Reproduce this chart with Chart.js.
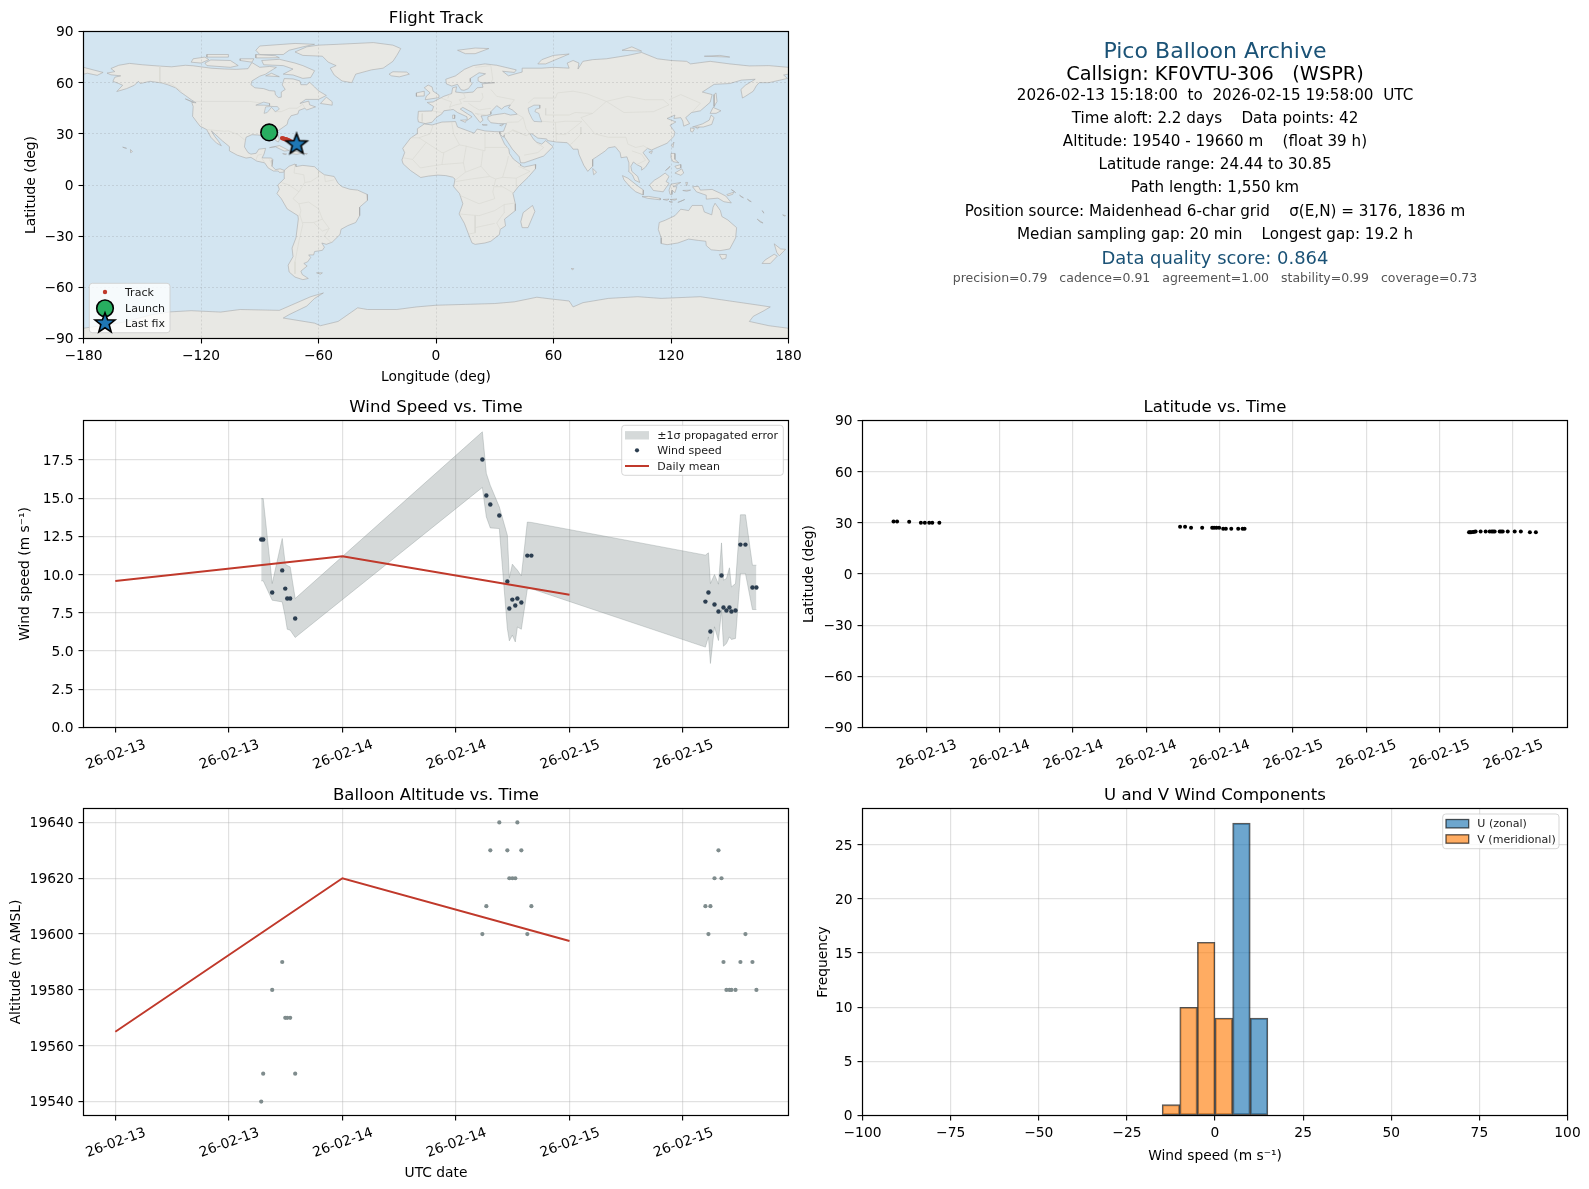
<!DOCTYPE html>
<html>
<head>
<meta charset="utf-8">
<title>Pico Balloon Archive</title>
<script src="https://cdn.jsdelivr.net/npm/chart.js@4/dist/chart.umd.js"></script>
<style>
  body { margin: 0; background: #fff; width: 1589px; height: 1189px; overflow: hidden; position: relative; font-family: "DejaVu Sans", sans-serif; }
  canvas { position: absolute; }
  .info { position: absolute; left: 815px; width: 800px; text-align: center; white-space: pre; line-height: 1; transform: translateY(-50%); color: #000; }
</style>
</head>
<body>
<canvas id="mapChart"></canvas>
<canvas id="windChart"></canvas>
<canvas id="latChart"></canvas>
<canvas id="altChart"></canvas>
<canvas id="histChart"></canvas>
<div id="infoBox"></div>
<script>
// --- Time series, hours after 26-02-13 00:00 UTC ---
const windHours = [15.42, 15.63, 16.58, 17.64, 17.96, 18.17, 18.48, 19.01,
  38.79, 39.21, 39.63, 40.58, 41.43, 41.64, 41.96, 42.27, 42.49, 42.91, 43.54, 43.97,
  62.36, 62.68, 62.89, 63.32, 63.74, 64.06, 64.27, 64.58, 64.90, 65.11, 65.54, 66.06, 66.59, 67.33, 67.75];
const windSpeed = [12.30, 12.30, 8.83, 10.28, 9.09, 8.44, 8.44, 7.13,
  17.54, 15.18, 14.59, 13.87, 9.55, 7.79, 8.37, 7.98, 8.44, 8.18, 11.25, 11.25,
  8.24, 8.83, 6.28, 8.05, 7.59, 9.95, 7.85, 7.66, 7.85, 7.59, 7.66, 11.97, 11.97, 9.16, 9.16];
const windUpper = [14.98, 14.98, 9.42, 12.37, 10.69, 10.60, 10.51, 8.44,
  19.35, 16.63, 15.84, 14.44, 12.58, 9.79, 10.69, 10.45, 10.30, 9.92, 13.44, 13.42,
  11.28, 11.43, 9.42, 10.01, 9.38, 12.08, 9.64, 9.75, 10.45, 9.20, 9.42, 13.92, 13.92, 10.62, 10.62];
const windLower = [9.60, 9.60, 8.33, 8.22, 7.24, 6.43, 6.37, 5.89,
  15.71, 13.78, 13.06, 13.02, 6.48, 5.67, 6.04, 5.60, 6.58, 6.43, 9.06, 9.08,
  5.26, 5.93, 4.19, 6.59, 5.69, 7.68, 5.32, 5.50, 5.93, 5.76, 5.83, 10.08, 10.08, 7.72, 7.72];
const altitude = [19540, 19550, 19580, 19590, 19570, 19570, 19570, 19550,
  19600, 19610, 19630, 19640, 19630, 19620, 19620, 19620, 19640, 19630, 19600, 19610,
  19610, 19600, 19610, 19620, 19630, 19620, 19590, 19580, 19580, 19580, 19580, 19590, 19600, 19590, 19580];

const dailyHours = [0, 24, 48];
const dailyWind = [9.58, 11.2, 8.68];
const dailyAlt = [19565, 19620, 19597.5];

const latHours = [15.32, 15.61, 16.60, 17.56, 17.88, 18.24, 18.49, 19.07,
  38.77, 39.18, 39.67, 40.58, 41.40, 41.56, 41.75, 41.97, 42.30, 42.52, 42.96, 43.53, 43.89, 44.05,
  62.42, 62.50, 62.58, 62.74, 62.85, 62.96, 63.37, 63.78, 64.11, 64.28, 64.40, 64.52, 64.93, 65.05, 65.18, 65.59, 66.16, 66.66, 67.40, 67.89];
const latValues = [30.85, 30.8, 30.7, 30.1, 30.05, 30.05, 30.0, 30.0,
  27.65, 27.65, 27.07, 27.07, 27.07, 27.07, 27.07, 27.07, 26.48, 26.48, 26.48, 26.48, 26.48, 26.48,
  24.44, 24.44, 24.44, 24.6, 24.7, 24.9, 24.9, 24.9, 24.9, 24.9, 24.9, 24.9, 24.9, 24.9, 24.9, 24.9, 24.9, 24.9, 24.44, 24.44];

const histBins = [-12.5, -7.5, -2.5, 2.5, 7.5, 12.5];
const histU = [null, null, null, null, 27, 9];
const histV = [1, 10, 16, 9, null, null];

// --- Tick lists ---
const mapLonTicks = [-180, -120, -60, 0, 60, 120, 180];
const latTicks = [-90, -60, -30, 0, 30, 60, 90];
const windHourTicks = [0, 12, 24, 36, 48, 60];
const windTickLabels = ['26-02-13', '26-02-13', '26-02-14', '26-02-14', '26-02-15', '26-02-15'];
const latHourTicks = [18, 24, 30, 36, 42, 48, 54, 60, 66];
const latTickLabels = ['26-02-13', '26-02-14', '26-02-14', '26-02-14', '26-02-14', '26-02-15', '26-02-15', '26-02-15', '26-02-15'];
const windSpeedTicks = [0, 2.5, 5, 7.5, 10, 12.5, 15, 17.5];
const altTicks = [19540, 19560, 19580, 19600, 19620, 19640];
const histXTicks = [-100, -75, -50, -25, 0, 25, 50, 75, 100];
const histYTicks = [0, 5, 10, 15, 20, 25];

// --- Map track ---
const trackLon = [-85.2, -85.0, -84.7, -84.4, -84.2, -84.0, -78.6, -78.0, -77.3, -76.6, -76.0, -75.3, -74.6, -73.5, -72.6, -71.8, -71.2];
const trackLat = [30.85, 30.7, 30.1, 30.05, 30.0, 30.0, 27.5, 27.3, 27.0, 26.8, 26.5, 26.2, 25.9, 25.2, 24.9, 24.6, 24.44];
const launchPoint = [-85.2, 30.85];
const lastFix = [-71.2, 24.44];

// --- Coastlines [lon, lat] ---
const northAmerica = [[-168,65.6],[-164,66.5],[-166,68.3],[-162,70.2],[-156.5,71.3],[-150,70.5],[-141,69.7],[-135,69.3],[-128,70.2],[-124,69.9],[-115,68.5],[-108,68],[-102,67.8],[-96,68.2],[-94,71.8],[-90,69],[-85,69.5],[-81.5,69],[-85,66.5],[-87,65],[-90,63.8],[-94,61],[-94.5,58.8],[-92.5,57],[-88,56.5],[-85,55.3],[-82.3,55.1],[-82,52.9],[-80.5,51.3],[-79,51.5],[-79,54.5],[-77,56],[-78.5,58.7],[-77.5,62.4],[-73,62.2],[-69.5,61],[-69,58.8],[-66,58.8],[-64.5,60.2],[-62,57.5],[-60,55.2],[-56,52.5],[-60,50.2],[-66.5,50.2],[-69.5,47.8],[-65,49.2],[-64.5,47],[-61.5,45.8],[-66,44],[-67,45],[-70,43.7],[-70.5,41.7],[-74,40.6],[-75.5,38],[-76,35.5],[-78,33.9],[-81,31.5],[-80,26.5],[-80.5,25.2],[-81.8,26],[-82.8,28],[-84,30],[-86,30.4],[-89.5,30.2],[-89.3,29.1],[-91,29.3],[-94,29.5],[-97,28],[-97.5,25],[-97.8,22.3],[-96,19],[-94.5,18.1],[-91.8,18.6],[-90.5,21],[-87,21.5],[-87.8,18.2],[-88.8,15.9],[-84,15.8],[-83.3,14.9],[-83.7,11],[-82,9],[-79.6,9.5],[-77.5,8.6],[-77.8,7.5],[-80,7.4],[-80.5,8.2],[-83,8.2],[-85.7,10],[-87.5,13],[-91.5,14],[-94.5,16.2],[-97,15.8],[-101.5,17.5],[-105.5,20],[-105.5,22.5],[-109,25.8],[-112.5,29.5],[-114.7,31.7],[-113,28.5],[-111,25.5],[-109.6,23],[-112,24.5],[-115,28],[-117.1,32.5],[-120.5,34.5],[-122.5,37.5],[-124.3,40.3],[-124,46],[-124.7,48.4],[-122.5,48.2],[-125,50],[-128,52.5],[-130.5,54.5],[-133,57],[-137,58.8],[-140,59.8],[-146,60.8],[-151,59.5],[-152,60.8],[-154,58.5],[-158,56.5],[-163,54.8],[-160,58.5],[-162,59.5],[-165,60.8],[-164,63.2],[-161,64],[-166,64.6]];
const greenland = [[-72,78],[-66,81],[-60,82],[-50,82.5],[-32,83.5],[-22,82],[-18,80],[-20,76],[-22,72.5],[-27,68.5],[-33,67.5],[-41,65],[-43,60],[-48,61],[-52,64.5],[-54,68.5],[-51,70],[-55,72],[-58,75.5],[-68,76]];
const southAmerica = [[-77.5,8.6],[-75,11],[-72,12.3],[-71.5,10.8],[-68,11.5],[-62,10.7],[-60,8.5],[-57,6],[-52,5],[-50,1],[-48,-1],[-44,-2.5],[-40,-3],[-35.2,-5.5],[-35,-9],[-39,-13],[-39,-18],[-41,-22],[-45,-23.8],[-48.5,-26],[-49,-29],[-53,-33.5],[-56,-34.8],[-58.3,-34],[-57,-36.5],[-58,-38.3],[-62,-39],[-62.5,-41],[-65,-41],[-64,-42.5],[-65.5,-45],[-67.5,-46],[-65.8,-47.5],[-69,-50.5],[-68.3,-52.5],[-65.2,-54.8],[-68,-55.5],[-72,-54],[-75,-51],[-75.5,-47],[-73,-42],[-73.5,-37],[-71.5,-31],[-70.3,-20],[-70.5,-18],[-76,-14],[-79,-8],[-81.2,-5],[-80,-2.5],[-80.8,0],[-78.5,2.5],[-77.3,4],[-77.5,7.5]];
const africa = [[-6,35.8],[-2,35.2],[3,36.9],[10,37.2],[11,34],[15,32.3],[19.5,30.4],[21,32.8],[25,31.7],[30,31.3],[32.5,31.2],[32.6,29.9],[35,24],[37.2,21],[37.5,18.5],[39.5,15.2],[43.2,12],[43.2,11.5],[45,10.5],[51,12],[50.8,9.5],[47,4.5],[42,-1],[39.3,-5],[40.5,-11],[40.5,-15],[35,-20],[35.5,-24],[32.8,-26],[32.4,-29],[28,-33],[25,-34],[20,-34.8],[18.4,-34],[17,-30],[14.5,-22.5],[11.8,-17],[13.7,-11],[12,-5],[9,-1],[9.7,3.5],[8.5,4.6],[5,5.5],[1,5.8],[-4,5.2],[-7.8,4.4],[-13,8.5],[-16.8,12.4],[-17.4,14.7],[-16,19],[-17,21.5],[-13,27.5],[-9.7,30],[-9.5,33]];
const eurasia = [[-9,37],[-9.3,39],[-9,43.2],[-2,43.4],[-1.2,46],[-4.5,48.4],[-1.5,48.7],[1.5,50.5],[4,52],[8,53.6],[8.5,57],[10.5,57.6],[10,54.5],[14,54],[19,54.5],[21,57],[24,57.3],[23.5,59.3],[30,60],[23,60],[21.5,61],[21.5,63],[25.3,65.2],[22,65.8],[17.5,62.5],[17.5,60.5],[18.5,59.5],[16.5,56.5],[14.3,55.5],[12.8,55.8],[11,59],[8,58],[5.3,59.3],[5,62],[10,64],[14.5,67.8],[19,70],[25,71],[31,70.2],[41,67.5],[40,66],[34,66.7],[37,64],[40,65],[44,66.2],[44,68.5],[54,68.5],[60,69],[68,68.5],[67,71.5],[70,73],[73,71.5],[72.5,68],[75,72.5],[80,73.5],[87,74],[98,76],[105,77.7],[113,74],[120,73],[128,72.5],[130,71],[140,72.5],[150,71],[160,69.8],[170,70],[180,69],[180,65],[177.5,64.5],[179.5,62.5],[170,60],[165,60],[163.5,58],[162,55],[158,52],[156.5,51],[155.7,56],[158,58.5],[163,62],[156,61.5],[150,59.5],[142,59],[136,54.5],[141,53],[140,48.5],[135,43.5],[130.5,42.5],[127.5,39.5],[129.5,36],[126.5,34.5],[126,37.5],[125,39.5],[121.5,39],[122,41],[118,39],[122.5,37],[119.5,35],[122,31],[121.5,28.5],[118,24.5],[113,22],[110,20.5],[108,21.5],[105.7,19],[109,14],[107,10.5],[105,8.7],[105,10.5],[102.5,12],[100.8,13.5],[99.5,11],[100,8],[103,5],[104,1.5],[101.5,2.8],[100.3,6],[98.3,8],[98.5,13],[97.5,16.5],[94.5,16],[94,19],[91.5,22.5],[88,21.8],[86.5,20],[82,16.5],[80,15],[80,11],[77.5,8],[75.5,11.5],[73,18],[72.5,21],[70,21],[69,22.5],[67,24.8],[61.5,25.2],[57,26],[56.5,27],[52,27.5],[49,30],[48,30],[50,26.5],[51.5,25],[54,24],[56,26],[59.8,22.5],[55,17],[45,13],[43.2,13],[42.5,16.5],[39,21],[35,28],[34.9,29.5],[34.3,28],[33,29.5],[32.6,30],[32.5,31.2],[34.5,31.5],[36,36],[32,36],[28,36.5],[26.5,38.5],[26.5,40],[29,41],[35,42],[38,41],[41.5,41.5],[39,44],[37,45.2],[38,47],[35,46],[33.5,44.5],[31,46.5],[28,43],[28,41.5],[26,40.8],[23,40.5],[24,38],[22.5,36.6],[19.5,41],[18.5,42.5],[13.7,45.5],[12.4,44.5],[16,41.8],[18.4,40],[16,38],[15.8,40],[11,42.5],[8.8,44.3],[4,43.5],[3,41.7],[0,39.5],[-2,36.8],[-5.5,36]];
const chukotkaEast = [[-180,69],[-175,67.5],[-170,66],[-173,64.3],[-178,65.5],[-180,65]];
const australia = [[114,-22],[113.5,-26],[115,-31],[115,-34.3],[118,-35],[123.5,-34],[129,-31.7],[134,-32.5],[137.8,-33],[138,-35.5],[140.5,-38],[145,-38.5],[150,-37.5],[153,-31],[153.5,-25],[149,-20.5],[146,-18.5],[145.2,-15],[142.5,-10.7],[141.5,-13],[140.8,-17.5],[137,-15.8],[136,-12],[130.8,-12],[129,-15],[125,-14.2],[122,-18],[117,-20.7]];
const antarctica = [[-180,-84],[-160,-80.5],[-145,-76],[-135.9,-74.4],[-125,-73.7],[-110,-74.5],[-100,-73],[-80,-73.5],[-72,-69.5],[-64,-65.5],[-57.5,-63.3],[-62,-66.5],[-66,-71],[-75,-76],[-78,-78],[-62,-81],[-59,-82.5],[-50,-80],[-40,-72],[-35,-73],[-20,-73],[-10,-71.5],[0,-70.5],[15,-70],[30,-69.5],[40,-68.5],[51.5,-65.8],[60,-67],[68,-68],[70,-71.5],[75,-69],[88,-66.5],[103,-65.5],[115,-66.5],[135,-65.5],[150,-68],[165,-70.5],[170.7,-71.5],[167,-74],[162,-77],[160,-80],[170,-82.5],[180,-84],[180,-90],[-180,-90]];
const arcticIslands = [
  [[-80,73.7],[-72,71.5],[-68,70],[-62,67],[-64,63],[-68,62.5],[-73,64.5],[-78,65],[-73,68],[-78,70],[-88,70.5],[-89,73]],
  [[-117,70],[-105,69],[-101,70],[-105,73],[-115,73.3],[-118,71.5]],
  [[-125,72],[-120,71.5],[-116,73.5],[-118,75],[-124,74]],
  [[-90,76.5],[-78,76.5],[-75,79],[-68,81],[-62,82.5],[-72,83],[-90,81.5],[-92,79]],
  [[-92,74.5],[-80,74.6],[-82,75.8],[-92,76.5]],
  [[-117,75],[-106,75],[-106,76.5],[-117,76.5]],
  [[-100,73],[-94,72],[-93,74],[-100,74]],
  [[-87,64],[-80,63.5],[-84,65.5]],
  [[11,79],[20,80.3],[27,80],[20,77],[15,77]],
  [[52,71],[56,71],[68,76.8],[60,76],[54,73.5]],
  [[95,79],[105,78.5],[100,81]],
  [[137,75.5],[150,75],[145,76]]
];
const otherIslands = [
  [[-59,47.8],[-53,46.8],[-53,48.8],[-56,51.5]],
  [[-128,50.5],[-123.5,48.4],[-125,48.9]],
  [[-85,21.9],[-80,23.1],[-75,20.2],[-77.5,19.9],[-82,22.4]],
  [[-74.4,18.4],[-72,19.9],[-68.4,18.6],[-71,18]],
  [[-78.3,18.4],[-76.3,18.2],[-77,17.8]],
  [[-67.2,18.5],[-65.7,18.4],[-66,18]],
  [[-156,20.8],[-155,19.6],[-155.8,19]],
  [[-160,22.2],[-158,21.5],[-159,21.8]],
  [[-5.5,50],[1.3,51.2],[1.5,52.7],[-1.5,55],[-2,57.5],[-4,58.6],[-6,57],[-3,54],[-5,52]],
  [[-10,52],[-6,52.2],[-6,55],[-10,54]],
  [[-24,65],[-22,66.4],[-15,66.2],[-13.6,65],[-18.7,63.4],[-22.7,64]],
  [[142,46],[143.5,49],[143,54],[142,53],[142,48]],
  [[140,42],[141.5,45.5],[145.5,43.5],[143,42]],
  [[131,34],[136,35.8],[139.5,38],[140.5,41],[142,39.5],[140.8,35.5],[136.5,34]],
  [[130,33.5],[132,33],[131,31],[130,31.5]],
  [[132.5,34],[134.5,34],[133.5,33]],
  [[120.2,23],[121.5,25.2],[121,22]],
  [[108.7,19.3],[110.5,20],[110,18.4]],
  [[120,18.5],[122,18.5],[122,15],[124,13],[121,13.7],[120,16]],
  [[122,7],[125.5,9.5],[126.5,7],[125,5.7]],
  [[122,11],[125,12],[125,10],[123,9.5]],
  [[117.2,8.5],[119.5,11],[119,10]],
  [[95.2,5.5],[98,4],[103.5,-1],[106,-3],[105.8,-5.8],[102,-4],[99,-1],[96,3]],
  [[105.2,-6.8],[108.5,-6.7],[114.5,-7.8],[114.5,-8.7],[108,-7.8]],
  [[109,0],[111.5,2.8],[114,4.5],[117,7],[119,5],[117.5,2],[119,1],[116,-4],[111,-3.2]],
  [[119.5,-5.5],[119,-3],[120,0.5],[125,1.5],[121,-1],[123,-1],[122,-4.5],[120.5,-3],[120.5,-5.5]],
  [[127.5,1.5],[128.5,1.5],[128,-0.5]],
  [[126,-3.2],[130,-3],[128,-3.7]],
  [[116,-8.5],[119,-8.3],[118,-9]],
  [[119.5,-8.5],[123,-8.2],[122,-8.9]],
  [[123.5,-10.2],[127,-8.5],[125,-9.6]],
  [[119,-9.6],[120.8,-10],[120,-10.2]],
  [[131,-1],[134,-0.8],[135,-3],[141,-2.6],[145.5,-5],[148,-6.5],[150.8,-10.5],[147,-9.8],[144,-7.7],[138,-8.3],[138,-6],[133,-4]],
  [[148.5,-5.6],[152,-4.2],[151.5,-5.5],[149,-6.3]],
  [[150.8,-2.7],[153,-4.5],[152,-3.5]],
  [[155,-6],[157,-7.5],[156,-7]],
  [[159,-8.2],[161,-9.8],[160,-9.5]],
  [[166.6,-15],[167.5,-16.5],[167,-16]],
  [[164,-20],[167,-22.3],[165.5,-21.7]],
  [[177,-17.5],[178.5,-18],[178,-18.2]],
  [[144.7,-40.7],[148.3,-40.8],[148,-43],[146,-43.5]],
  [[172.7,-34.5],[176,-37.5],[178.5,-37.7],[175.3,-41.5],[174,-39.5]],
  [[172.7,-40.6],[174.3,-41.7],[170.7,-46],[166.5,-46],[168,-44]],
  [[49.3,-12],[50.5,-15.5],[47,-25],[44,-25],[43.3,-21.5],[44.5,-16.2]],
  [[80,9.7],[82,7.5],[80.5,6]],
  [[-61,-51.5],[-58,-51.5],[-59,-52.3]],
  [[69,-49],[70.3,-49],[69.8,-49.8]],
  [[12.5,38],[15.6,38.2],[15,36.7]],
  [[8.5,41],[9.7,41],[9.5,39],[8.5,39]],
  [[23.5,35.5],[26.2,35.2],[24,35]],
  [[32.5,35],[34.5,35.6],[33.5,34.7]]
];
const lakes = [
  [[47,45],[50,46.8],[53,46.8],[53,45],[51,44.5],[50.5,43],[52.5,42],[53,40],[54,37],[50,37.3],[49,39],[47.5,42.5]],
  [[-92,46.8],[-88,48.6],[-85,47.8],[-85,46.6],[-88,46.8]],
  [[-87.8,42],[-87,45.8],[-84.8,46],[-81,46],[-80,44.5],[-82,43],[-84,45.5],[-86.2,42.5]]
];
const landPolygons = [antarctica, northAmerica, greenland, southAmerica, africa, eurasia, chukotkaEast, australia, ...arcticIslands, ...otherIslands];

const countryBorders = [
  [[-123,49],[-95,49],[-89,48],[-83,46],[-82.5,43],[-79,43],[-75,45],[-71,45],[-68,47.3],[-67,45]],
  [[-141,69.7],[-141,60.2],[-135,59],[-130,55]],
  [[-117,32.5],[-108,31.5],[-106,31.7],[-101,29.5],[-97.3,26]],
  [[-92,14.5],[-91,17.5],[-89,18]], [[-89,15.8],[-87.5,13.2]], [[-85,15],[-83.5,11]],
  [[-72,12],[-72.5,7],[-67.5,6],[-67,1.5],[-70,-4]],
  [[-78.8,1.4],[-75,0],[-70,-4],[-73,-8],[-70,-11],[-69,-15],[-69.5,-17.5],[-70.3,-18]],
  [[-60,8],[-60,5],[-64,2],[-67,1.5]],
  [[-70,-11],[-65,-10],[-60,-14],[-58,-20],[-54.5,-25.5],[-57,-30],[-53.5,-33.7]],
  [[-57,6],[-56.5,2],[-52,3]],
  [[-69.5,-17.5],[-68,-23],[-70,-33],[-72,-45],[-72,-52]],
  [[-68,-22],[-62.5,-22],[-58,-20]], [[-62.5,-22],[-58,-27],[-54.5,-25.5]],
  [[-8.7,27.7],[-13,27.7]], [[-8.7,27.7],[3,19],[4,19],[12,23.5],[14.5,23],[25,20],[25,31.5]],
  [[25,22],[36.8,22]], [[-5,25],[-12,15],[-17,16]], [[3,12],[4,19]], [[3,12],[14,13],[15.5,23]],
  [[-12,15],[-8,10],[-3,11],[3,12]], [[14,13],[15,7.5],[10,3]],
  [[24,20],[23,11],[27.5,5],[30.5,3.5],[34,4.5],[36,12],[37,17]],
  [[15,7.5],[23,11]], [[10,2],[18,3.5],[27.5,5]],
  [[30.5,3.5],[29,-4],[30,-8],[22,-11],[12,-6]],
  [[41,-1.5],[41,4],[34,4.5]], [[39.5,-4.7],[34,-1],[30,-1]],
  [[40.5,-10.5],[34.8,-11.5],[30,-15],[22,-18],[12,-17]],
  [[20,-18],[20,-28],[17,-28.7]], [[30,-22.5],[20,-25]],
  [[32.8,-26],[31,-22.3],[33,-19],[35,-16],[34.8,-11.5]],
  [[42,11],[48,8],[41,4]], [[9,30],[8,37]], [[9,30],[12,23.5]], [[-1.5,35],[-3,30],[-8.7,27.7]],
  [[-1.8,43.4],[3,42.5]], [[-7,42],[-7,37.2]],
  [[2.5,51],[6,49.5],[8,48.7],[7,45.8],[7.5,43.8]], [[7,53.5],[6,50.8]],
  [[14,54],[15,51],[12,50],[13,47.7],[10,47],[7,45.8]],
  [[14,49],[22.8,49],[24,51.5],[23.5,54]], [[28,45],[22,44],[19,46],[16.5,48]],
  [[22,41],[20,42],[26,41]], [[28,56],[31,52],[40,50],[38,47]], [[20,69],[28,70],[29,62],[28,60]],
  [[47,48],[50,51],[61,51],[62,54],[70,55],[77,53.5],[87,49]],
  [[87,49],[98,52],[107,50],[116,50],[119,47],[111,43],[96,42.5],[87,49]],
  [[119,50],[125,53],[135,48],[131,43]], [[87,49],[80,42],[74,39.5]],
  [[74,39.5],[79,33],[81,30],[88,28],[97,28],[98,24],[102,22],[106,23],[108,21.5]],
  [[74,34],[74,30],[70,25],[68.5,23.7]], [[44.5,39.5],[46,33],[48,30]], [[61,36.7],[61.5,25.2]],
  [[61,36.7],[66,37.4],[74.5,37.3],[71,34],[66,29.5],[61,30]], [[53.8,37.4],[61,36.7]],
  [[56,45],[56,41],[61,41],[68,41],[71,42.5],[80,42]], [[39,32.5],[46,29],[48,30]],
  [[35,29.5],[39,32],[46,29]], [[45,17.5],[52,19],[55,22],[51.5,24.5]],
  [[100,20],[105,18],[107,14.5],[102.5,12]], [[36,36.7],[42,37],[44.5,39.5],[41.5,41.5]]
];

// --- Info panel text ---
const infoLines = [
  ['Pico Balloon Archive', 51, 22.08, '#1a5276'],
  ['Callsign: KF0VTU-306   (WSPR)', 73.5, 19.32, '#000'],
  ['2026-02-13 15:18:00  to  2026-02-15 19:58:00  UTC', 95.5, 15.18, '#000'],
  ['Time aloft: 2.2 days    Data points: 42', 118.5, 15.18, '#000'],
  ['Altitude: 19540 - 19660 m    (float 39 h)', 141.5, 15.18, '#000'],
  ['Latitude range: 24.44 to 30.85', 164.5, 15.18, '#000'],
  ['Path length: 1,550 km', 187.5, 15.18, '#000'],
  ['Position source: Maidenhead 6-char grid    σ(E,N) = 3176, 1836 m', 211.5, 15.18, '#000'],
  ['Median sampling gap: 20 min    Longest gap: 19.2 h', 234.5, 15.18, '#000'],
  ['Data quality score: 0.864', 257.5, 17.94, '#1a5276'],
  ['precision=0.79   cadence=0.91   agreement=1.00   stability=0.99   coverage=0.73', 278, 12.5, '#555']
];

const infoBox = document.getElementById('infoBox');
infoLines.forEach(([text, y, size, color]) => {
  const line = document.createElement('div');
  line.className = 'info';
  line.textContent = text;
  line.style.top = y + 'px';
  line.style.fontSize = size + 'px';
  line.style.color = color;
  infoBox.appendChild(line);
});

// --- Chart.js setup ---
Chart.defaults.font.family = '"DejaVu Sans"';
Chart.defaults.font.size = 13.8;
Chart.defaults.color = '#000';
Chart.defaults.animation = false;
Chart.defaults.devicePixelRatio = 1;

const RED = '#c0392b';
const NAVY = '#2c3e50';
const GRAY = '#7f8c8d';
const BAND = 'rgba(127,140,141,0.33)';
const GRID = 'rgba(176,176,176,0.38)';
const PANEL_H = 307;
const TITLE_ROOM = 30.5;
const TITLE_SIZE = 16.56;
const minus = v => String(v).replace('-', '\u2212');
const zip = (xs, ys) => xs.map((x, i) => ({ x, y: ys[i] }));
const toPoints = coords => coords.map(([x, y]) => ({ x, y }));

function starPath(ctx, cx, cy, R) {
  ctx.beginPath();
  for (let i = 0; i < 10; i++) {
    const r = i % 2 ? R * 0.42 : R;
    const a = -Math.PI / 2 + i * Math.PI / 5;
    ctx.lineTo(cx + r * Math.cos(a), cy + r * Math.sin(a));
  }
  ctx.closePath();
}

function drawStar(ctx, cx, cy, R) {
  starPath(ctx, cx, cy, R);
  ctx.fillStyle = '#1f77b4';
  ctx.fill();
  ctx.lineWidth = 1.6;
  ctx.strokeStyle = '#000';
  ctx.lineJoin = 'miter';
  ctx.stroke();
}

function drawCircle(ctx, cx, cy, r) {
  ctx.beginPath();
  ctx.arc(cx, cy, r, 0, Math.PI * 2);
  ctx.fillStyle = '#27ae60';
  ctx.fill();
  ctx.lineWidth = 1.6;
  ctx.strokeStyle = '#000';
  ctx.stroke();
}

// star marker as a point image, Chart.js 'star' is only an asterisk
const starMarker = document.createElement('canvas');
starMarker.width = starMarker.height = 30;
drawStar(starMarker.getContext('2d'), 15, 16, 11);

// axes frame on all four sides and optional ocean background
function framePlugin(background) {
  return {
    id: 'frame',
    beforeDraw(chart) {
      if (!background) return;
      const a = chart.chartArea;
      chart.ctx.fillStyle = background;
      chart.ctx.fillRect(a.left, a.top, a.width, a.height);
    },
    afterDraw(chart) {
      const a = chart.chartArea, ctx = chart.ctx;
      ctx.save();
      ctx.strokeStyle = '#000';
      ctx.lineWidth = 1.2;
      ctx.strokeRect(a.left, a.top, a.width, a.height);
      ctx.restore();
    }
  };
}

// matplotlib style legend box, box and rows are page coordinates
function legendPlugin(box, rows, canvasLeft, canvasTop) {
  return {
    id: 'panelLegend',
    afterDraw(chart) {
      const ctx = chart.ctx;
      ctx.save();
      ctx.translate(-canvasLeft, -canvasTop);
      ctx.beginPath();
      ctx.roundRect(box[0], box[1], box[2] - box[0], box[3] - box[1], 3);
      ctx.fillStyle = 'rgba(255,255,255,0.8)';
      ctx.fill();
      ctx.strokeStyle = 'rgba(204,204,204,0.8)';
      ctx.lineWidth = 1;
      ctx.stroke();
      rows.forEach(row => {
        row.draw(ctx, row.y);
        ctx.fillStyle = '#1a1a1a';
        ctx.font = '11.04px "DejaVu Sans"';
        ctx.textBaseline = 'middle';
        ctx.textAlign = 'left';
        ctx.fillText(row.label, row.textX, row.y + 0.7);
      });
      ctx.restore();
    }
  };
}

function swatch(color, x0, x1, edge) {
  return (ctx, y) => {
    ctx.fillStyle = color;
    ctx.fillRect(x0, y - 4.2, x1 - x0, 8.4);
    if (edge) {
      ctx.strokeStyle = edge;
      ctx.lineWidth = 1.3;
      ctx.strokeRect(x0, y - 4.2, x1 - x0, 8.4);
    }
  };
}

function dot(color, x, r) {
  return (ctx, y) => {
    ctx.beginPath();
    ctx.arc(x, y, r, 0, Math.PI * 2);
    ctx.fillStyle = color;
    ctx.fill();
  };
}

function dash(color, x0, x1) {
  return (ctx, y) => {
    ctx.beginPath();
    ctx.moveTo(x0, y);
    ctx.lineTo(x1, y);
    ctx.strokeStyle = color;
    ctx.lineWidth = 2;
    ctx.stroke();
  };
}

function makePanel(id, p, datasets, extraPlugins, type) {
  const canvas = document.getElementById(id);
  canvas.width = p.canvasW;
  canvas.height = p.bottom - p.canvasTop;
  canvas.style.left = p.canvasLeft + 'px';
  canvas.style.top = p.canvasTop + 'px';
  canvas.style.width = p.canvasW + 'px';
  canvas.style.height = (p.bottom - p.canvasTop) + 'px';

  const gridBase = {
    color: p.gridColor || GRID,
    lineWidth: p.gridWidth || 1.2,
    tickColor: '#000',
    tickLength: 5,
    tickWidth: 1.1,
    tickBorderDash: [],
    z: p.gridOnTop ? 1 : -1
  };
  const border = { display: false, dash: p.gridDash || [] };
  const panelTop = p.canvasTop + TITLE_ROOM;
  const titlePadTop = 7.5;

  return new Chart(canvas, {
    type: type || 'scatter',
    data: { datasets },
    plugins: [framePlugin(p.background), ...extraPlugins],
    options: {
      responsive: false,
      layout: { autoPadding: false, padding: { left: 0, top: 0, bottom: 0, right: p.canvasW - (p.right - p.canvasLeft) } },
      plugins: {
        legend: { display: false },
        tooltip: { enabled: false },
        title: {
          display: true,
          fullSize: false,
          text: p.title,
          font: { size: TITLE_SIZE, weight: 'normal' },
          color: '#000',
          padding: { top: titlePadTop, bottom: TITLE_ROOM - titlePadTop - TITLE_SIZE * 1.2 }
        }
      },
      scales: {
        x: {
          type: 'linear',
          min: p.xMin,
          max: p.xMax,
          offset: false,
          grid: { ...gridBase, offset: false },
          border,
          title: p.xTitle ? { display: true, text: p.xTitle, color: '#000', font: { size: 13.8 }, padding: { top: 0, bottom: 0 } } : { display: false },
          ticks: {
            autoSkip: false,
            maxRotation: p.xLabels ? 20 : 0,
            minRotation: p.xLabels ? 20 : 0,
            padding: p.xLabels ? 4 : 5,
            labelOffset: p.xLabels ? 30 : 0,
            callback: (v, i) => p.xLabels ? p.xLabels[i] : minus(v)
          },
          afterBuildTicks: s => { s.ticks = p.xTicks.map(value => ({ value })); },
          afterFit: s => {
            s.height = p.bottom - (panelTop + PANEL_H);
            s.paddingLeft = s.paddingRight = 0;
          }
        },
        y: {
          type: 'linear',
          min: p.yMin,
          max: p.yMax,
          grid: gridBase,
          border,
          title: { display: true, text: p.yTitle, color: '#000', font: { size: 13.8 }, padding: { top: p.yTitleX - 7.3, bottom: 0 } },
          ticks: {
            autoSkip: false,
            padding: 5,
            labelOffset: 1.3,
            callback: v => p.yFormat ? p.yFormat(v) : minus(v)
          },
          afterBuildTicks: s => { s.ticks = p.yTicks.map(value => ({ value })); },
          afterFit: s => {
            s.width = p.left - p.canvasLeft;
            s.paddingTop = s.paddingBottom = 0;
          }
        }
      }
    }
  });
}

const seriesLine = (label, xs, ys, color, width, order) => ({
  label, data: zip(xs, ys), showLine: true, borderColor: color, borderWidth: width,
  pointRadius: 0, tension: 0, order
});
const seriesDots = (label, xs, ys, color, radius, order) => ({
  label, data: zip(xs, ys), showLine: false, backgroundColor: color, borderWidth: 0,
  pointRadius: radius, order
});

// Flight track map
const mapDatasets = [
  { label: 'Last fix', data: [{ x: lastFix[0], y: lastFix[1] }], pointStyle: starMarker, order: 0 },
  { label: 'Launch', data: [{ x: launchPoint[0], y: launchPoint[1] }], pointRadius: 8.3, backgroundColor: '#27ae60', borderColor: '#000', borderWidth: 1.6, order: 1 },
  seriesDots('Track', trackLon, trackLat, RED, 2.2, 2),
  ...lakes.map(l => ({ label: 'lake', data: toPoints([...l, l[0]]), showLine: true, fill: 'shape', backgroundColor: '#d3e5f1', borderColor: 'rgba(165,165,165,0.7)', borderWidth: 0.7, pointRadius: 0, order: 3 })),
  ...countryBorders.map(b => ({ label: 'border', data: toPoints(b), showLine: true, borderColor: 'rgba(216,216,211,0.9)', borderWidth: 0.7, pointRadius: 0, order: 4 })),
  ...landPolygons.map(l => ({ label: 'land', data: toPoints([...l, l[0]]), showLine: true, fill: 'shape', backgroundColor: '#e8e8e4', borderColor: 'rgba(165,165,165,0.7)', borderWidth: 0.8, pointRadius: 0, order: 5 }))
];
makePanel('mapChart', {
  canvasLeft: 0, canvasTop: 1, canvasW: 820, bottom: 386, left: 83.5, right: 788.5,
  title: 'Flight Track', xTitle: 'Longitude (deg)', yTitle: 'Latitude (deg)', yTitleX: 30.4,
  xMin: -180, xMax: 180, yMin: -90, yMax: 90, xTicks: mapLonTicks, yTicks: latTicks,
  background: '#d3e5f1', gridOnTop: true, gridColor: 'rgba(110,110,110,0.18)', gridDash: [2, 2], gridWidth: 1
}, mapDatasets, [legendPlugin([89.3, 283.3, 170, 332.7], [
  { label: 'Track', y: 292, textX: 125, draw: dot(RED, 105, 2.2) },
  { label: 'Launch', y: 308.3, textX: 125, draw: (ctx, y) => drawCircle(ctx, 105, y, 8.3) },
  { label: 'Last fix', y: 323.3, textX: 125, draw: (ctx, y) => drawStar(ctx, 105, y, 10.5) }
], 0, 1)]);

// Wind speed
makePanel('windChart', {
  canvasLeft: 0, canvasTop: 390, canvasW: 820, bottom: 776, left: 83.5, right: 788.5,
  title: 'Wind Speed vs. Time', yTitle: 'Wind speed (m s\u207b\u00b9)', yTitleX: 24.3,
  xMin: -3.36, xMax: 71.14, yMin: 0, yMax: 20.09, xTicks: windHourTicks, xLabels: windTickLabels,
  yTicks: windSpeedTicks, yFormat: v => v.toFixed(1)
}, [
  seriesLine('Daily mean', dailyHours, dailyWind, RED, 2, 0),
  seriesDots('Wind speed', windHours, windSpeed, NAVY, 2.2, 1),
  { ...seriesLine('upper', windHours, windUpper, BAND, 1, 2), fill: '+1', backgroundColor: BAND },
  seriesLine('lower', windHours, windLower, BAND, 1, 3)
], [legendPlugin([621.7, 425.3, 783.3, 475.3], [
  { label: '\u00b11\u03c3 propagated error', y: 435.3, textX: 657.3, draw: swatch(BAND, 625, 649) },
  { label: 'Wind speed', y: 450.3, textX: 657.3, draw: dot(NAVY, 637, 2.1) },
  { label: 'Daily mean', y: 466, textX: 657.3, draw: dash(RED, 625, 649) }
], 0, 390)]);

// Latitude
makePanel('latChart', {
  canvasLeft: 800, canvasTop: 390, canvasW: 789, bottom: 776, left: 862.5, right: 1567.5,
  title: 'Latitude vs. Time', yTitle: 'Latitude (deg)', yTitleX: 8.7,
  xMin: 12.78, xMax: 70.48, yMin: -90, yMax: 90, xTicks: latHourTicks, xLabels: latTickLabels, yTicks: latTicks
}, [seriesDots('Latitude', latHours, latValues, '#000', 2, 0)], []);

// Altitude
makePanel('altChart', {
  canvasLeft: 0, canvasTop: 778, canvasW: 820, bottom: 1182, left: 83.5, right: 788.5,
  title: 'Balloon Altitude vs. Time', xTitle: 'UTC date', yTitle: 'Altitude (m AMSL)', yTitleX: 15.6,
  xMin: -3.36, xMax: 71.14, yMin: 19535, yMax: 19645, xTicks: windHourTicks, xLabels: windTickLabels,
  yTicks: altTicks, yFormat: v => String(v)
}, [
  seriesLine('Daily mean', dailyHours, dailyAlt, RED, 2, 0),
  seriesDots('Altitude', windHours, altitude, GRAY, 2.1, 1)
], []);

// U and V histogram
const barStyle = (color) => ({
  backgroundColor: color,
  borderColor: 'rgba(0,0,0,0.65)',
  borderWidth: 1.3,
  borderSkipped: false,
  barPercentage: 1,
  categoryPercentage: 1,
  grouped: false
});
makePanel('histChart', {
  canvasLeft: 800, canvasTop: 778, canvasW: 789, bottom: 1165, left: 862.5, right: 1567.5,
  title: 'U and V Wind Components', xTitle: 'Wind speed (m s\u207b\u00b9)', yTitle: 'Frequency', yTitleX: 22,
  xMin: -100, xMax: 100, yMin: 0, yMax: 28.35, xTicks: histXTicks, yTicks: histYTicks
}, [
  { label: 'U (zonal)', data: zip(histBins, histU), ...barStyle('rgba(31,119,180,0.65)') },
  { label: 'V (meridional)', data: zip(histBins, histV), ...barStyle('rgba(255,127,14,0.65)') }
], [legendPlugin([1442.7, 814, 1559, 848.7], [
  { label: 'U (zonal)', y: 823.7, textX: 1477.3, draw: swatch('rgba(31,119,180,0.65)', 1446, 1468.7, 'rgba(0,0,0,0.65)') },
  { label: 'V (meridional)', y: 839, textX: 1477.3, draw: swatch('rgba(255,127,14,0.65)', 1446, 1468.7, 'rgba(0,0,0,0.65)') }
], 800, 778)], 'bar');
</script>
</body>
</html>
